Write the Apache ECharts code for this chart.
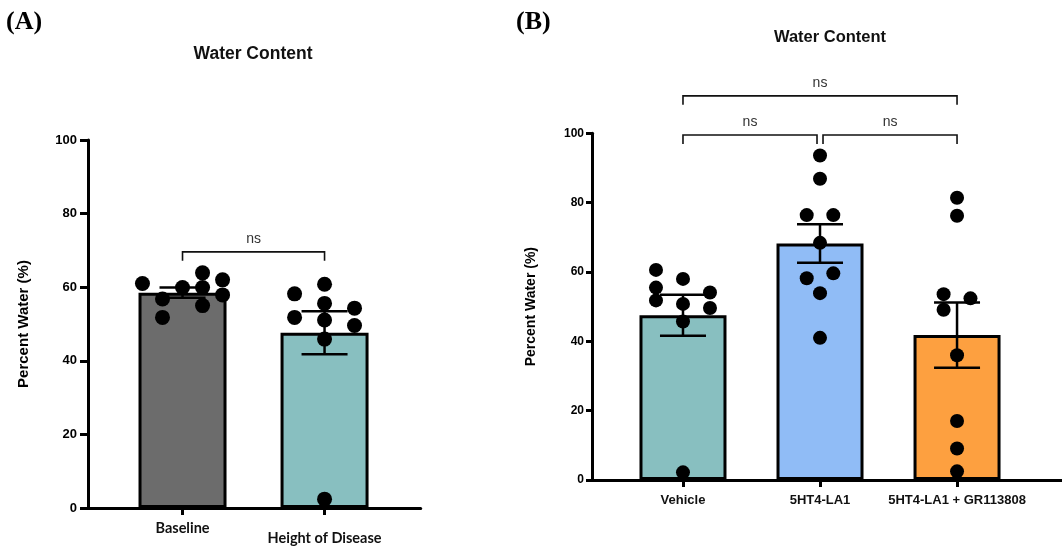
<!DOCTYPE html>
<html><head><meta charset="utf-8">
<script src="https://cdn.jsdelivr.net/npm/echarts@6/dist/echarts.min.js"></script>
<style>html,body{margin:0;padding:0;background:#fff}#c{width:1062px;height:548px}</style>
</head><body><div id="c"></div>
<script>
// ---------- Panel A data ----------
const catsA = ['Baseline', 'Height of Disease'];
const meansA = [58.5, 47.6];
const semA = [1.4, 5.85];
const baselineVals = [61.0, 56.8, 51.8, 59.9, 63.9, 59.9, 55.0, 62.0, 57.9];
const baselineCols = [-2, -1, -1, 0, 1, 1, 1, 2, 2];
const diseaseVals = [58.2, 51.8, 60.8, 55.6, 51.1, 45.9, 2.4, 54.3, 49.6];
const diseaseCols = [-1, -1, 0, 0, 0, 0, 0, 1, 1];
const statsA = [[0, 1, 'ns']];
// ---------- Panel B data ----------
const catsB = ['Vehicle', '5HT4-LA1', '5HT4-LA1 + GR113808'];
const meansB = [47.5, 68.2, 41.8];
const semB = [5.9, 5.55, 9.4];
const vehicleVals = [60.6, 55.5, 51.8, 58.0, 50.8, 45.7, 2.2, 54.1, 49.6];
const vehicleCols = [-1, -1, -1, 0, 0, 0, 0, 1, 1];
const la1Vals = [93.6, 86.9, 76.4, 76.4, 68.4, 58.2, 59.6, 53.9, 41.0];
const la1Cols = [0, 0, -1, 1, 0, -1, 1, 0, 0];
const grVals = [81.4, 76.2, 53.6, 52.4, 49.1, 36.0, 17.0, 9.1, 2.5];
const grCols = [0, 0, -1, 1, -1, 0, 0, 0, 0];
const statsB = [[0, 1, 'ns'], [1, 2, 'ns'], [0, 2, 'ns']];
const yTicks = [0, 20, 40, 60, 80, 100];

// ---------- styling / layout ----------
const colorsA = ['#6c6c6c', '#88bfc0'];
const colorsB = ['#88bfc0', '#90bcf6', '#fda040'];
const SANS = 'Liberation Sans, Arial, sans-serif';

function pts(idx, vals, cols, step) {
  return vals.map((v, i) => [idx + cols[i] * step, v]);
}
function errRender(params, api) {
  const x = api.value(0), m = api.value(1), s = api.value(2);
  const t = api.coord([x, m + s]), b = api.coord([x, m - s]);
  const h = 23, st = { stroke: '#000', lineWidth: 2.5 };
  return { type: 'group', children: [
    { type: 'line', shape: { x1: t[0], y1: t[1], x2: b[0], y2: b[1] }, style: st },
    { type: 'line', shape: { x1: t[0] - h, y1: t[1], x2: t[0] + h, y2: t[1] }, style: st },
    { type: 'line', shape: { x1: b[0] - h, y1: b[1], x2: b[0] + h, y2: b[1] }, style: st }
  ]};
}
function bracketRender(level, inset) {
  return function (params, api) {
    const a = api.value(0), b = api.value(1), lv = api.value(2), txt = api.value(3);
    const p1 = api.coord([a, lv]), p2 = api.coord([b, lv]);
    const ia = api.value(4) ? inset : 0, ib = api.value(5) ? inset : 0;
    const x1 = p1[0] + ia, x2 = p2[0] - ib, y = p1[1], leg = 9;
    return { type: 'group', children: [
      { type: 'polyline', shape: { points: [[x1, y + leg], [x1, y], [x2, y], [x2, y + leg]] },
        style: { stroke: '#111', lineWidth: 1.6, fill: null } },
      { type: 'text', style: { text: txt, x: (x1 + x2) / 2, y: y - 13, align: 'center', verticalAlign: 'middle',
        font: '14px ' + SANS, fill: '#333' } }
    ]};
  };
}
function bracketData(stats, levels) {
  return stats.map((s, i) => {
    const lv = levels[i];
    const shareA = stats.some((o, j) => j !== i && levels[j] === lv && (o[1] === s[0]));
    const shareB = stats.some((o, j) => j !== i && levels[j] === lv && (o[0] === s[1]));
    return [s[0], s[1], lv, s[2], shareA ? 1 : 0, shareB ? 1 : 0];
  });
}

function yAxisCfg(gi, fs, tickLen, margin, nameFs, nameGap) {
  return {
    gridIndex: gi, type: 'value', min: 0, max: 100, interval: 20,
    name: 'Percent Water (%)', nameLocation: 'middle', nameGap: nameGap,
    nameTextStyle: { fontFamily: SANS, fontWeight: 'bold', fontSize: nameFs, color: '#000' },
    axisLine: { show: true, onZero: false, lineStyle: { color: '#000', width: 3 } },
    axisTick: { show: true, length: tickLen, lineStyle: { color: '#000', width: 3 } },
    axisLabel: { fontFamily: SANS, fontWeight: 'bold', fontSize: fs, color: '#000', margin: margin },
    splitLine: { show: false }
  };
}

const dot = { color: '#000', opacity: 1 };
const option = {
  animation: false,
  backgroundColor: '#fff',
  title: [
    { text: '(A)', left: 1, top: 4, textStyle: { fontFamily: 'Liberation Serif, Times New Roman, serif', fontWeight: 'bold', fontSize: 26, color: '#000' } },
    { text: '(B)', left: 511, top: 4, textStyle: { fontFamily: 'Liberation Serif, Times New Roman, serif', fontWeight: 'bold', fontSize: 26, color: '#000' } },
    { text: 'Water Content', left: 248, textAlign: 'center', top: 40, textStyle: { fontFamily: SANS, fontWeight: 'bold', fontSize: 17.5, color: '#111' } },
    { text: 'Water Content', left: 825, textAlign: 'center', top: 24, textStyle: { fontFamily: SANS, fontWeight: 'bold', fontSize: 16.5, color: '#111' } }
  ],
  grid: [
    { left: 88, top: 140, width: 332.7, height: 368 },
    { left: 592, top: 133.3, width: 470, height: 346.7 }
  ],
  xAxis: [
    { gridIndex: 0, type: 'value', min: -0.6655, max: 1.677, splitLine: { show: false },
      axisLine: { show: true, onZero: false, lineStyle: { color: '#000', width: 3 } },
      axisTick: { show: true, customValues: [0, 1], length: 7, lineStyle: { color: '#000', width: 3 } },
      axisLabel: { customValues: [0, 1], margin: 12,
        formatter: v => (Math.round(v) === 0 ? '{a|' : '{b|') + catsA[Math.round(v)] + '}',
        rich: {
          a: { fontFamily: 'Lato, ' + SANS, fontWeight: 'bold', fontSize: 14.5, color: '#111', lineHeight: 16 },
          b: { fontFamily: 'Lato, ' + SANS, fontWeight: 'bold', fontSize: 14.5, color: '#111', lineHeight: 36 }
        } } },
    { gridIndex: 1, type: 'value', min: -0.664, max: 2.766, splitLine: { show: false },
      axisLine: { show: true, onZero: false, lineStyle: { color: '#000', width: 3 } },
      axisTick: { show: true, customValues: [0, 1, 2], length: 7, lineStyle: { color: '#000', width: 3 } },
      axisLabel: { customValues: [0, 1, 2], margin: 14, fontFamily: SANS, fontWeight: 'bold', fontSize: 13, color: '#111',
        formatter: v => catsB[Math.round(v)] } }
  ],
  yAxis: [
    yAxisCfg(0, 13, 8, 11, 15, 57),
    yAxisCfg(1, 12, 6, 8, 14, 54)
  ],
  series: [
    // Panel A
    { type: 'bar', xAxisIndex: 0, yAxisIndex: 0, barWidth: 88, z: 2,
      data: meansA.map((m, i) => ({ value: [i, m], itemStyle: { color: colorsA[i] } })),
      itemStyle: { borderColor: '#000', borderWidth: 3 } },
    { type: 'custom', xAxisIndex: 0, yAxisIndex: 0, z: 3, renderItem: errRender,
      data: meansA.map((m, i) => [i, m, semA[i]]) },
    { type: 'scatter', xAxisIndex: 0, yAxisIndex: 0, z: 4, symbolSize: 15, itemStyle: dot,
      data: pts(0, baselineVals, baselineCols, 0.141) },
    { type: 'scatter', xAxisIndex: 0, yAxisIndex: 0, z: 4, symbolSize: 15, itemStyle: dot,
      data: pts(1, diseaseVals, diseaseCols, 0.211) },
    { type: 'custom', xAxisIndex: 0, yAxisIndex: 0, z: 5, clip: false, renderItem: bracketRender(0, 3),
      data: bracketData(statsA, [69.6]) },
    // Panel B
    { type: 'bar', xAxisIndex: 1, yAxisIndex: 1, barWidth: 87, z: 2,
      data: meansB.map((m, i) => ({ value: [i, m], itemStyle: { color: colorsB[i] } })),
      itemStyle: { borderColor: '#000', borderWidth: 3 } },
    { type: 'custom', xAxisIndex: 1, yAxisIndex: 1, z: 3, renderItem: errRender,
      data: meansB.map((m, i) => [i, m, semB[i]]) },
    { type: 'scatter', xAxisIndex: 1, yAxisIndex: 1, z: 4, symbolSize: 14, itemStyle: dot,
      data: pts(0, vehicleVals, vehicleCols, 0.197) },
    { type: 'scatter', xAxisIndex: 1, yAxisIndex: 1, z: 4, symbolSize: 14, itemStyle: dot,
      data: pts(1, la1Vals, la1Cols, 0.097) },
    { type: 'scatter', xAxisIndex: 1, yAxisIndex: 1, z: 4, symbolSize: 14, itemStyle: dot,
      data: pts(2, grVals, grCols, 0.098) },
    { type: 'custom', xAxisIndex: 1, yAxisIndex: 1, z: 5, clip: false, renderItem: bracketRender(0, 3),
      data: bracketData(statsB, [99.5, 99.5, 110.8]) }
  ]
};
const chart = echarts.init(document.getElementById('c'), null, { renderer: 'canvas' });
chart.setOption(option);
</script>
</body></html>
